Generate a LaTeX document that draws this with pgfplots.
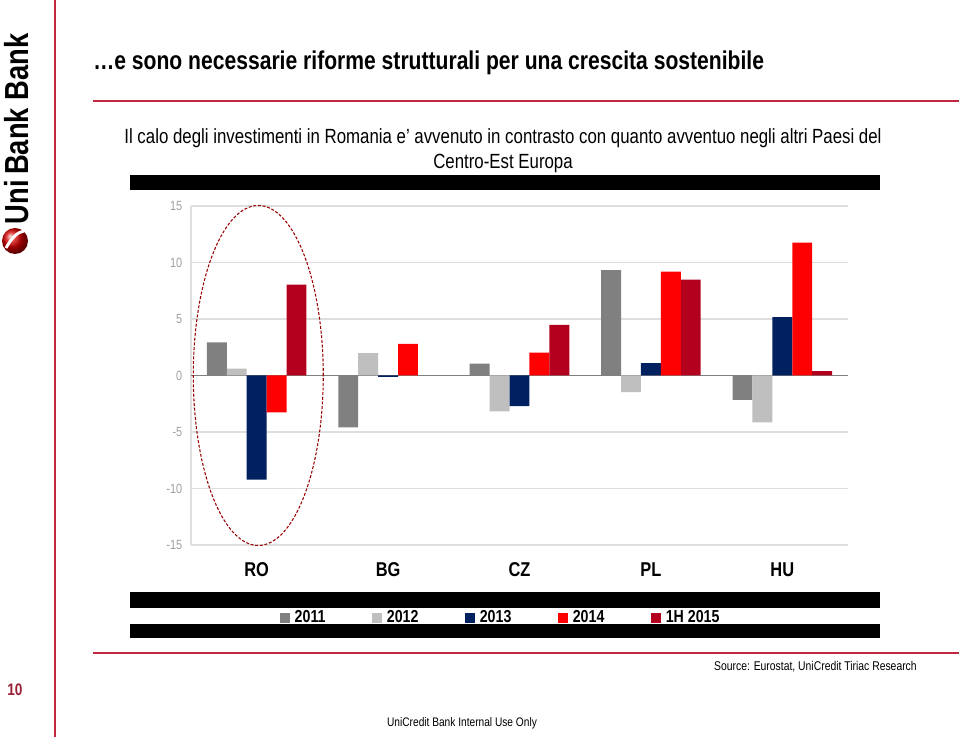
\documentclass[border=0pt]{standalone}
\usepackage{pgfplots}
\pgfplotsset{compat=1.18}
\usepackage{fontspec}
\setmainfont[FakeStretch=0.82]{Liberation Sans}
\definecolor{c11}{RGB}{128,128,128}
\definecolor{c12}{RGB}{191,191,191}
\definecolor{c13}{RGB}{0,32,96}
\definecolor{c14}{RGB}{255,0,0}
\definecolor{c15}{RGB}{178,0,30}
\definecolor{ucred}{RGB}{192,40,64}
\definecolor{gridc}{RGB}{222,222,222}
\definecolor{tickc}{RGB}{160,160,160}
\begin{document}
\begin{tikzpicture}[x=0.75pt,y=0.75pt]
\path[use as bounding box, fill=white] (0,0) rectangle (959,737);
% left red line
\draw[ucred, line width=0.9pt] (55,737) -- (55,0);
% logo
\node[rotate=90, font=\bfseries\fontsize{25}{25}\selectfont, inner sep=0] at (17,608) {Uni\,Bank Bank};
\shade[ball color=red!85!black] (15,496) circle (13);
\draw[white, line width=2.2pt] (6,489) .. controls (12,500) and (18,505) .. (24,506);
% title
\node[anchor=base west, font=\bfseries\fontsize{19.3}{19.3}\selectfont, inner sep=0] at (93,667) {…e sono necessarie riforme strutturali per una crescita sostenibile};
\draw[ucred, line width=1.1pt] (93,636) -- (959,636);
% subtitle
\node[anchor=base, font=\fontsize{15.4}{15.4}\selectfont, inner sep=0] at (503,593) {Il calo degli investimenti in Romania e’ avvenuto in contrasto con quanto avventuo negli altri Paesi del};
\node[anchor=base, font=\fontsize{15.4}{15.4}\selectfont, inner sep=0] at (503,568) {Centro-Est Europa};
% black bars
\fill[black] (130,547) rectangle (880,562);
\fill[black] (130,129) rectangle (880,145);
\fill[black] (130,99) rectangle (880,113);
% footer
\draw[ucred, line width=1.1pt] (93,84) -- (959,84);
\node[anchor=base east, font=\fontsize{9.5}{9.5}\selectfont, inner sep=0] at (917,66) {Source: Eurostat, UniCredit Tiriac Research};
\node[anchor=base, font=\fontsize{9.3}{9.3}\selectfont, inner sep=0] at (462,10) {UniCredit Bank Internal Use Only};
\node[font=\bfseries\fontsize{12.5}{12.5}\selectfont, text=ucred!80!black, inner sep=0] at (15,47) {10};
\begin{axis}[
  at={(143.25pt,144pt)}, anchor=south west,
  scale only axis, width=492.75pt, height=254.25pt,
  xmin=-0.5, xmax=4.5, ymin=-15, ymax=15,
  ybar=0pt, bar width=0.1515,
  xtick={0,1,2,3,4}, xticklabels={RO,BG,CZ,PL,HU},
  ytick={-15,-10,-5,0,5,10,15},
  ymajorgrids, major grid style={gridc, line width=1.1pt},
  axis line style={draw=none},
  major tick length=0pt,
  /pgf/number format/assume math mode=true,
  yticklabel style={text=tickc, font=\fontsize{10}{10}\selectfont, xshift=-3pt},
  xticklabel style={font=\bfseries\fontsize{15}{15}\selectfont, anchor=north, text height=11pt, text depth=0pt, yshift=-9pt},
  clip=false,
  legend columns=-1,
  legend image code/.code={\fill[#1,draw=none] (0pt,-3.75pt) rectangle (7.5pt,3.75pt);},
  legend style={draw=none, fill=none, at={(0.472,-0.214)}, anchor=center,
    font=\bfseries\fontsize{13}{13}\selectfont,
    /tikz/every even column/.append style={column sep=33pt},
    /tikz/every odd column/.append style={column sep=1.5pt}},
]
\draw[gridc, line width=1.1pt] (rel axis cs:0,0) -- (rel axis cs:0,1);
\draw[c11, line width=0.8pt] (axis cs:-0.5,0) -- (axis cs:4.5,0);
\addplot[fill=c11, draw=none] coordinates {(0,2.92) (1,-4.6) (2,1.06) (3,9.32) (4,-2.15)};
\addplot[fill=c12, draw=none] coordinates {(0,0.6) (1,1.98) (2,-3.18) (3,-1.47) (4,-4.15)};
\addplot[fill=c13, draw=none] coordinates {(0,-9.22) (1,-0.12) (2,-2.7) (3,1.1) (4,5.16)};
\addplot[fill=c14, draw=none] coordinates {(0,-3.27) (1,2.8) (2,2.03) (3,9.2) (4,11.76)};
\addplot[fill=c15, draw=none] coordinates {(0,8.05) (2,4.48) (3,8.49) (4,0.39)};
\legend{2011,2012,2013,2014,1H 2015}
\draw[red!60!black, dash pattern=on 2.2pt off 1.3pt, line width=0.8pt] (axis cs:0.012,0) ellipse [x radius=48.75pt, y radius=127.5pt];
\end{axis}
\end{tikzpicture}
\end{document}
